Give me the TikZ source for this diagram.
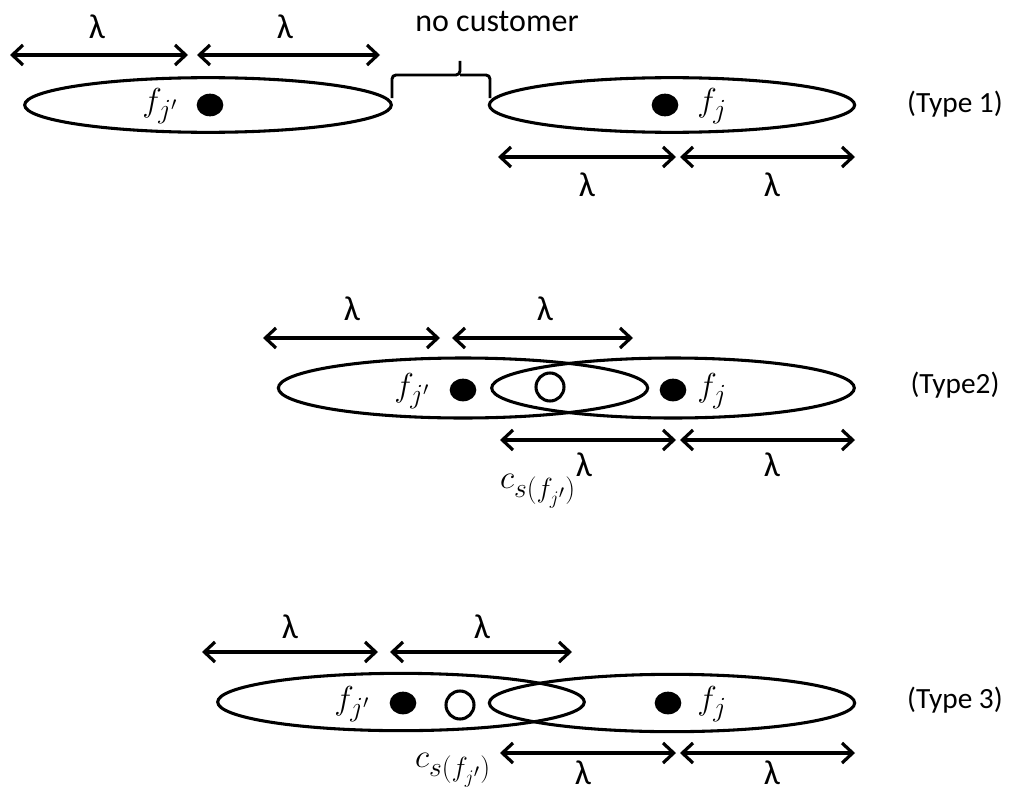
\documentclass[tikz,border=0pt]{standalone}
\usepackage{fontspec}
\setmainfont{Carlito}
\usetikzlibrary{arrows.meta,shapes.geometric}
\tikzset{
  big/.style={font=\fontsize{22}{26}\selectfont},
  oval/.style={draw, ellipse, line width=2.3pt, inner sep=0pt},
  fdot/.style={fill, ellipse, inner sep=0pt, minimum width=20pt, minimum height=17pt},
  odot/.style={draw, circle, line width=2.3pt, inner sep=0pt, minimum size=21pt, fill=white},
  dim/.style={{Straight Barb[length=8pt,width=15pt,line width=2.4pt]}-{Straight Barb[length=8pt,width=15pt,line width=2.4pt]}, line width=2.3pt},
  lab/.style={big, inner sep=0pt},
  lam/.style={font=\fontsize{26}{30}\selectfont, inner sep=0pt},
  mlab/.style={font=\fontsize{28}{32}\selectfont, inner sep=0pt},
  brace/.style={line width=2.2pt, rounded corners=3pt}
}
\begin{document}
\begin{tikzpicture}[x=0.75pt,y=-0.75pt]
\useasboundingbox (0,0) rectangle (1024,792);
% ---------- Type 1 ----------
\node[oval, minimum width=275pt, minimum height=41pt] (e1l) at (208,105) {};
\node[oval, minimum width=274pt, minimum height=41pt] (e1r) at (672,105) {};
\node[fdot] (d1l) at (210,105) {};
\node[fdot] (d1r) at (665,105) {};
\node[mlab] (f1l) at (160,106) {$f_{j'}$};
\node[mlab] (f1r) at (712,106) {$f_j$};
\coordinate (a1) at (10,55); \coordinate (a2) at (188,55);
\coordinate (a3) at (197,55); \coordinate (a4) at (380,55);
\draw[dim] (a1) -- (a2);
\draw[dim] (a3) -- (a4);
\node[lam] (l1a) at (97,27) {λ};
\node[lam] (l1b) at (285,27) {λ};
\coordinate (b1) at (498,157); \coordinate (b2) at (676,157);
\coordinate (b3) at (680,157); \coordinate (b4) at (855,157);
\draw[dim] (b1) -- (b2);
\draw[dim] (b3) -- (b4);
\node[lam] (l1c) at (587,185) {λ};
\node[lam] (l1d) at (772,185) {λ};
\coordinate (br1) at (392,98); \coordinate (br2) at (490,98);
\coordinate (brt) at (460,61);
\draw[brace] (br1) -- (392,75) -- (460,75) -- (brt);
\draw[brace] (460,75) -- (490,75) -- (br2);
\node[font=\fontsize{24}{28}\selectfont, inner sep=0pt] (nc) at (497,22) {no customer};
\node[lab] (t1) at (955,104) {(Type 1)};
% ---------- Type 2 ----------
\node[oval, minimum width=277pt, minimum height=45pt] (e2l) at (463,388) {};
\node[oval, minimum width=272pt, minimum height=45pt] (e2r) at (673,388) {};
\node[fdot] (d2l) at (463,390) {};
\node[odot] (c2) at (550,387) {};
\node[fdot] (d2r) at (673,390) {};
\node[mlab] (f2l) at (412,391) {$f_{j'}$};
\node[mlab] (f2r) at (712,391) {$f_j$};
\coordinate (p1) at (263,338); \coordinate (p2) at (440,338);
\coordinate (p3) at (452,338); \coordinate (p4) at (633,338);
\draw[dim] (p1) -- (p2);
\draw[dim] (p3) -- (p4);
\node[lam] (l2a) at (352,309) {λ};
\node[lam] (l2b) at (545,309) {λ};
\coordinate (q1) at (500,440); \coordinate (q2) at (676,440);
\coordinate (q3) at (680,440); \coordinate (q4) at (855,440);
\draw[dim] (q1) -- (q2);
\draw[dim] (q3) -- (q4);
\node[lam] (l2c) at (584,465) {λ};
\node[lam] (l2d) at (772,465) {λ};
\node[mlab] (cs2) at (538,491) {$c_{s(f_{j'})}$};
\node[lab] (t2) at (955,385) {(Type2)};
% ---------- Type 3 ----------
\node[oval, minimum width=275pt, minimum height=43pt] (e3l) at (401,702) {};
\node[oval, minimum width=274pt, minimum height=43pt] (e3r) at (672,703) {};
\node[fdot] (d3l) at (403,703) {};
\node[odot] (c3) at (460,705) {};
\node[fdot] (d3r) at (668,703) {};
\node[mlab] (f3l) at (352,704) {$f_{j'}$};
\node[mlab] (f3r) at (712,704) {$f_j$};
\coordinate (r1) at (202,652); \coordinate (r2) at (378,652);
\coordinate (r3) at (390,652); \coordinate (r4) at (572,652);
\draw[dim] (r1) -- (r2);
\draw[dim] (r3) -- (r4);
\node[lam] (l3a) at (290,627) {λ};
\node[lam] (l3b) at (482,627) {λ};
\coordinate (s1) at (500,753); \coordinate (s2) at (676,753);
\coordinate (s3) at (680,753); \coordinate (s4) at (855,753);
\draw[dim] (s1) -- (s2);
\draw[dim] (s3) -- (s4);
\node[lam] (l3c) at (583,773) {λ};
\node[lam] (l3d) at (772,773) {λ};
\node[mlab] (cs3) at (453,770) {$c_{s(f_{j'})}$};
\node[lab] (t3) at (955,700) {(Type 3)};
\end{tikzpicture}
\end{document}
